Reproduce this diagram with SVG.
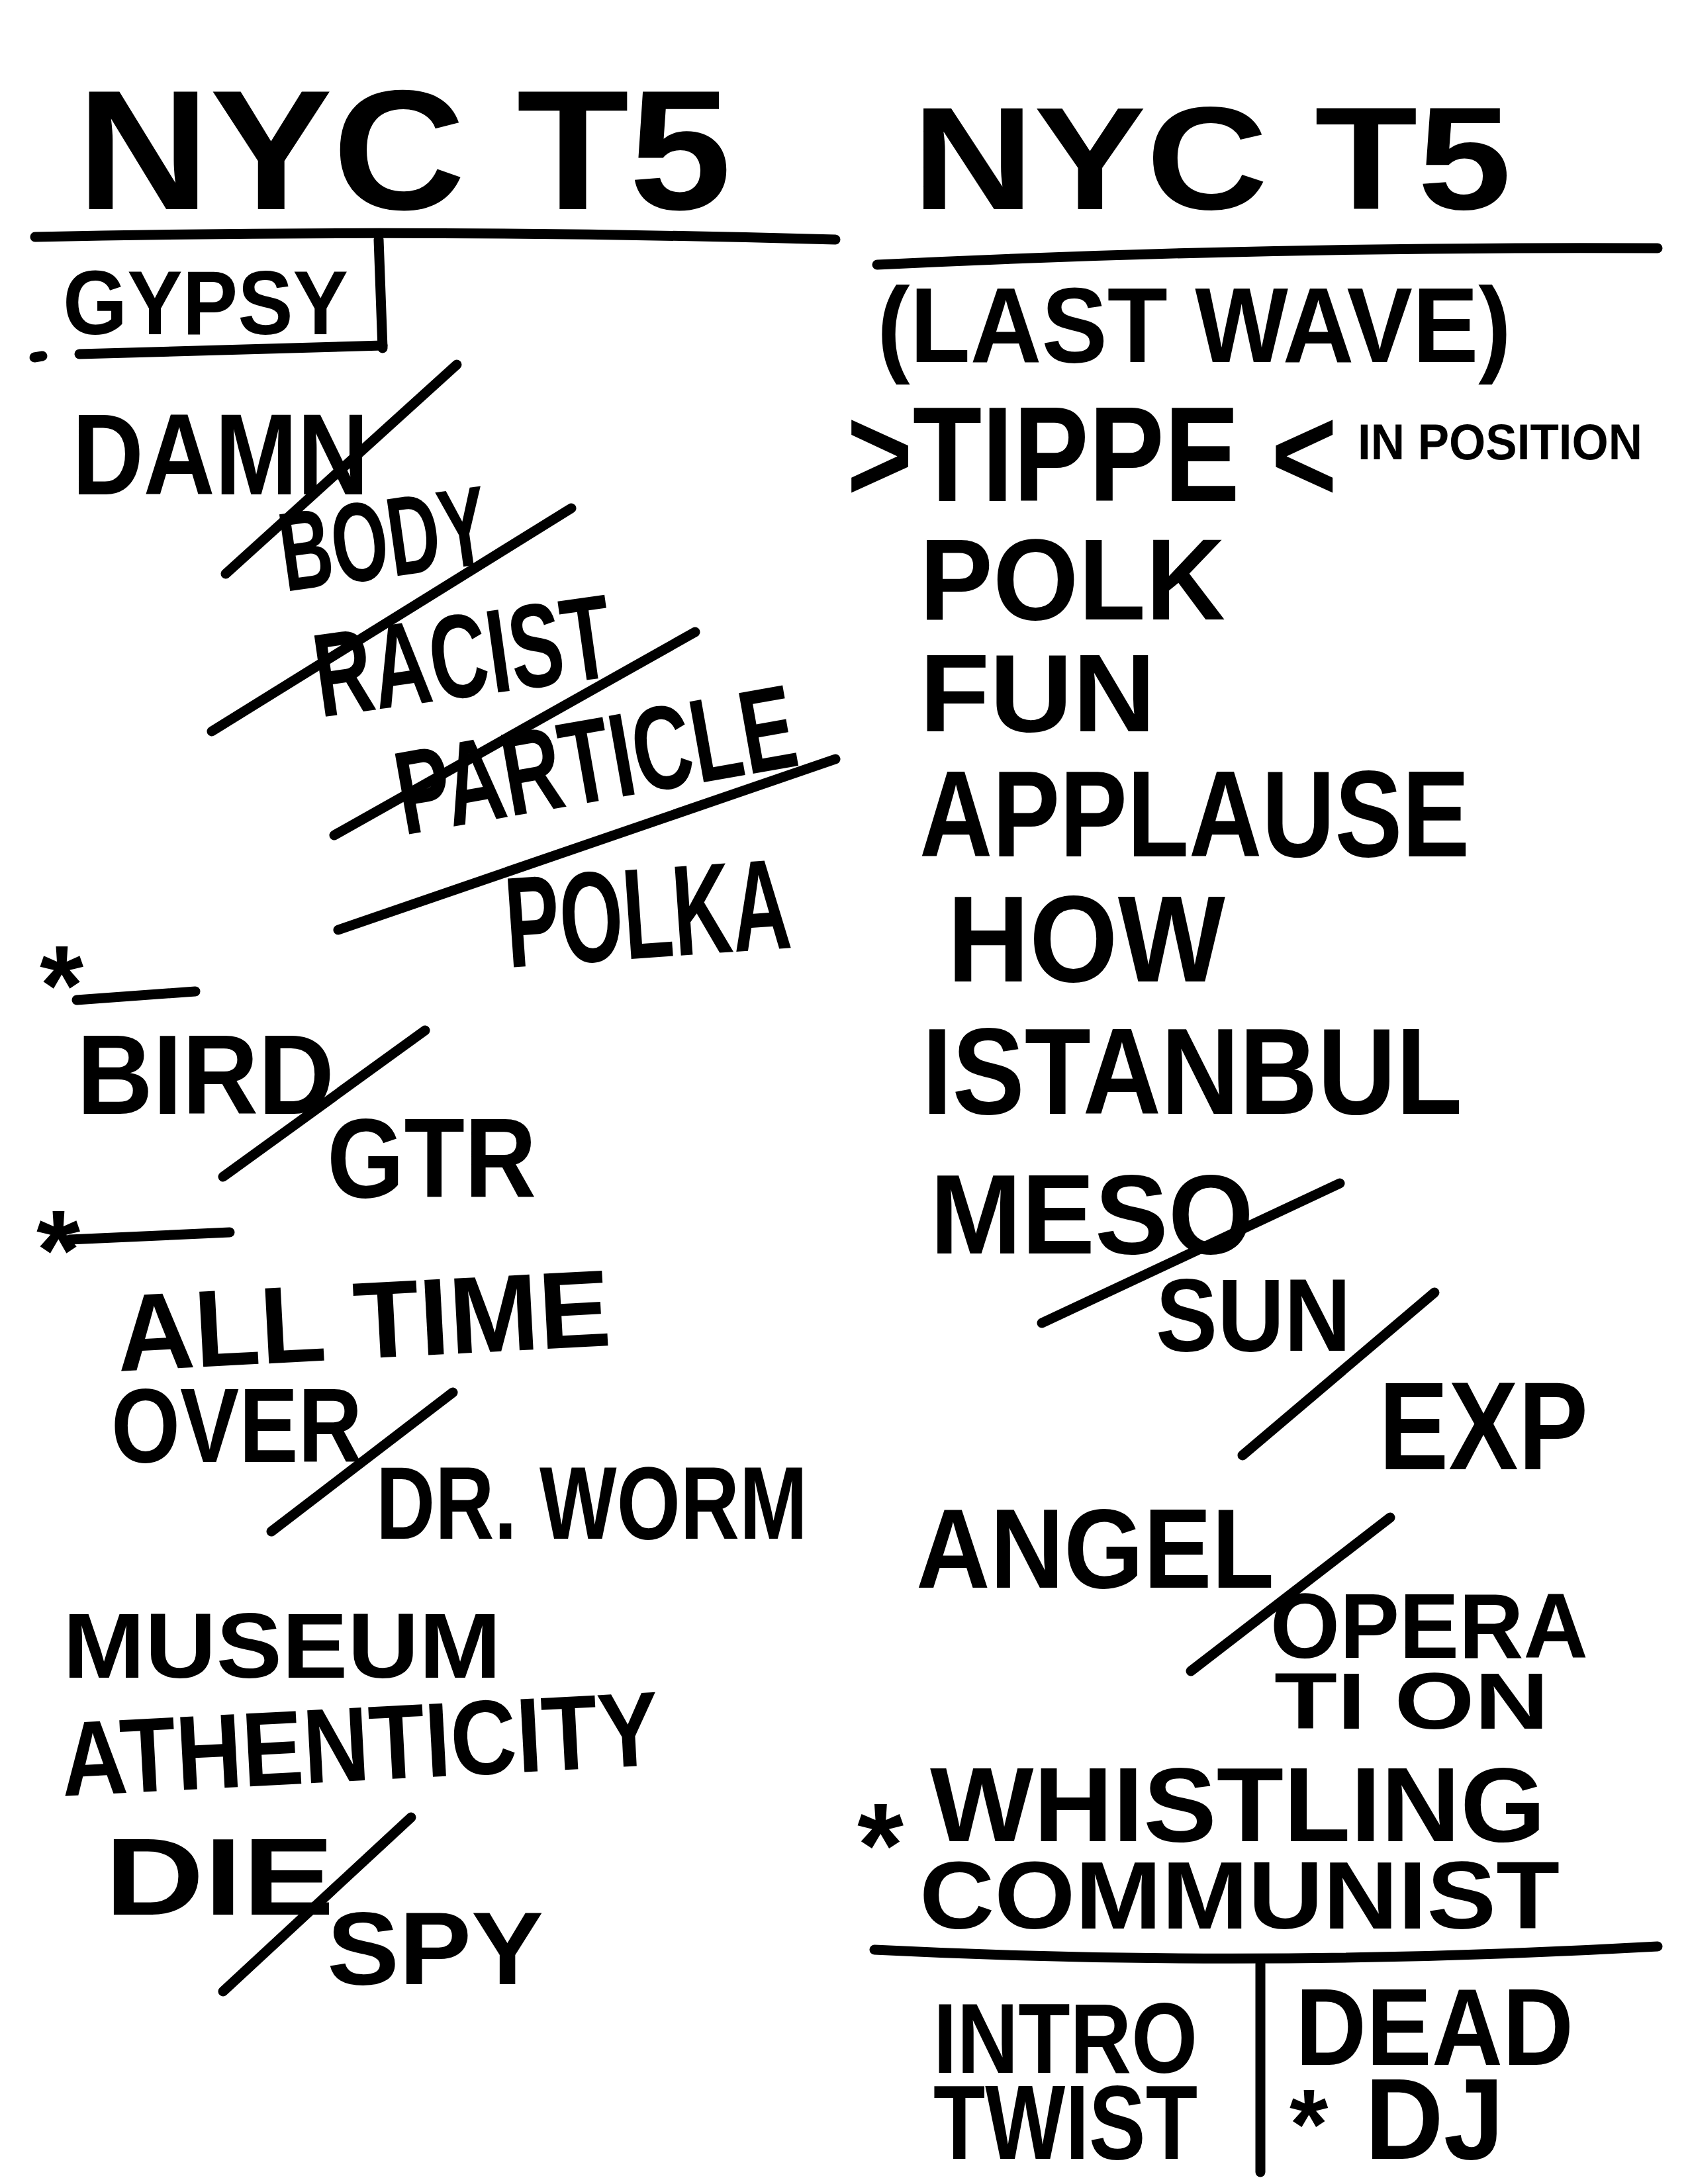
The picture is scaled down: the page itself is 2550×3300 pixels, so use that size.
<svg xmlns="http://www.w3.org/2000/svg" width="2550" height="3300" viewBox="0 0 2550 3300">
<style>
.t{font-family:"Liberation Sans","DejaVu Sans",sans-serif;font-weight:bold;fill:#000}
.l{fill:none;stroke:#000;stroke-width:15;stroke-linecap:round;stroke-linejoin:round}
</style>
<rect width="2550" height="3300" fill="#fff"/>
<g id="left-column">
<text class="t" x="116" y="316" font-size="258" textLength="989" lengthAdjust="spacingAndGlyphs">NYC T5</text>
<text class="t" x="95" y="505" font-size="138" textLength="431" lengthAdjust="spacingAndGlyphs">GYPSY</text>
<text class="t" x="109" y="747" font-size="175" textLength="448" lengthAdjust="spacingAndGlyphs">DAMN</text>
<text class="t" x="431" y="894" font-size="170" textLength="316" lengthAdjust="spacingAndGlyphs" transform="rotate(-8 431 894)">BODY</text>
<text class="t" x="484" y="1084" font-size="180" textLength="452" lengthAdjust="spacingAndGlyphs" transform="rotate(-8 484 1084)">RACIST</text>
<text class="t" x="610" y="1262" font-size="180" textLength="610" lengthAdjust="spacingAndGlyphs" transform="rotate(-10 610 1262)">PARTICLE</text>
<text class="t" x="768" y="1462" font-size="195" textLength="431" lengthAdjust="spacingAndGlyphs" transform="rotate(-4 768 1462)">POLKA</text>
<text class="t" x="60" y="1548" font-size="170">*</text>
<text class="t" x="116" y="1683" font-size="170" textLength="389" lengthAdjust="spacingAndGlyphs">BIRD</text>
<text class="t" x="494" y="1809" font-size="170" textLength="316" lengthAdjust="spacingAndGlyphs">GTR</text>
<text class="t" x="55" y="1948" font-size="170">*</text>
<text class="t" x="179" y="2072" font-size="165" textLength="747" lengthAdjust="spacingAndGlyphs" transform="rotate(-3 179 2072)">ALL TIME</text>
<text class="t" x="168" y="2209" font-size="160" textLength="379" lengthAdjust="spacingAndGlyphs">OVER</text>
<text class="t" x="568" y="2325" font-size="155" textLength="652" lengthAdjust="spacingAndGlyphs">DR. WORM</text>
<text class="t" x="95" y="2535" font-size="140" textLength="662" lengthAdjust="spacingAndGlyphs">MUSEUM</text>
<text class="t" x="95" y="2714" font-size="160" textLength="904" lengthAdjust="spacingAndGlyphs" transform="rotate(-3 95 2714)">ATHENTICITY</text>
<text class="t" x="158" y="2893" font-size="165" textLength="347" lengthAdjust="spacingAndGlyphs">DIE</text>
<text class="t" x="494" y="2998" font-size="155" textLength="327" lengthAdjust="spacingAndGlyphs">SPY</text>
</g>
<g id="right-column">
<text class="t" x="1378" y="316" font-size="220" textLength="905" lengthAdjust="spacingAndGlyphs">NYC T5</text>
<text class="t" x="1325" y="547" font-size="162" textLength="958" lengthAdjust="spacingAndGlyphs">(LAST WAVE)</text>
<text class="t" x="1279" y="757" font-size="205" textLength="741" lengthAdjust="spacingAndGlyphs">&gt;TIPPE &lt;</text>
<text class="t" x="2051" y="694" font-size="76" textLength="430" lengthAdjust="spacingAndGlyphs">IN POSITION</text>
<text class="t" x="1389" y="936" font-size="175" textLength="462" lengthAdjust="spacingAndGlyphs">POLK</text>
<text class="t" x="1389" y="1105" font-size="167" textLength="357" lengthAdjust="spacingAndGlyphs">FUN</text>
<text class="t" x="1389" y="1294" font-size="185" textLength="831" lengthAdjust="spacingAndGlyphs">APPLAUSE</text>
<text class="t" x="1431" y="1483" font-size="185" textLength="420" lengthAdjust="spacingAndGlyphs">HOW</text>
<text class="t" x="1393" y="1683" font-size="185" textLength="816" lengthAdjust="spacingAndGlyphs">ISTANBUL</text>
<text class="t" x="1405" y="1894" font-size="170" textLength="489" lengthAdjust="spacingAndGlyphs">MESO</text>
<text class="t" x="1746" y="2041" font-size="155" textLength="295" lengthAdjust="spacingAndGlyphs">SUN</text>
<text class="t" x="2083" y="2220" font-size="190" textLength="316" lengthAdjust="spacingAndGlyphs">EXP</text>
<text class="t" x="1384" y="2399" font-size="170" textLength="541" lengthAdjust="spacingAndGlyphs">ANGEL</text>
<text class="t" x="1919" y="2505" font-size="140" textLength="480" lengthAdjust="spacingAndGlyphs">OPERA</text>
<text class="t" x="1925" y="2612" font-size="120" textLength="415" lengthAdjust="spacingAndGlyphs">TI ON</text>
<text class="t" x="1295" y="2850" font-size="180">*</text>
<text class="t" x="1405" y="2782" font-size="160" textLength="930" lengthAdjust="spacingAndGlyphs">WHISTLING</text>
<text class="t" x="1389" y="2914" font-size="145" textLength="967" lengthAdjust="spacingAndGlyphs">COMMUNIST</text>
<text class="t" x="1410" y="3132" font-size="150" textLength="399" lengthAdjust="spacingAndGlyphs">INTRO</text>
<text class="t" x="1410" y="3262" font-size="160" textLength="399" lengthAdjust="spacingAndGlyphs">TWIST</text>
<text class="t" x="1957" y="3120" font-size="165" textLength="420" lengthAdjust="spacingAndGlyphs">DEAD</text>
<text class="t" x="1948" y="3262" font-size="150">*</text>
<text class="t" x="2062" y="3262" font-size="175" textLength="210" lengthAdjust="spacingAndGlyphs">DJ</text>
</g>
<g id="connectors">
<path class="l" d="M53,358 Q650,345 1262,362"/>
<path class="l" d="M572,362 L578,526"/>
<path class="l" d="M120,535 L578,522"/>
<path class="l" d="M52,540 L64,538"/>
<path class="l" d="M341,867 L690,551"/>
<path class="l" d="M320,1105 L863,768"/>
<path class="l" d="M505,1262 L1050,955"/>
<path class="l" d="M511,1405 L1262,1147"/>
<path class="l" d="M116,1511 L295,1498"/>
<path class="l" d="M337,1778 L642,1557"/>
<path class="l" d="M105,1873 L347,1862"/>
<path class="l" d="M410,2314 L684,2104"/>
<path class="l" d="M337,3009 L621,2746"/>
<path class="l" d="M1325,400 Q1900,372 2504,375"/>
<path class="l" d="M1574,1999 L2024,1788"/>
<path class="l" d="M1877,2199 L2167,1953"/>
<path class="l" d="M1799,2525 L2100,2293"/>
<path class="l" d="M1321,2946 Q1900,2975 2504,2941"/>
<path class="l" d="M1904,2967 L1904,3282"/>
</g>
</svg>
